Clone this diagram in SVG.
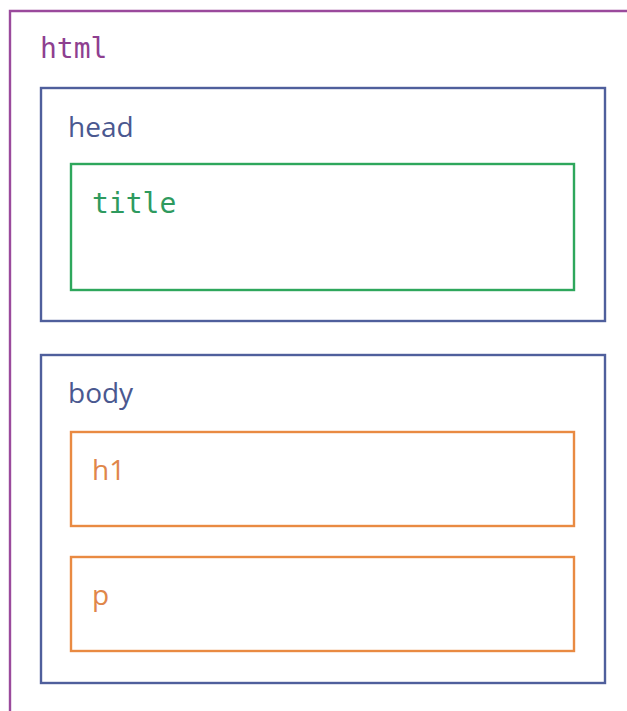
<svg xmlns="http://www.w3.org/2000/svg" width="627" height="711" viewBox="0 0 627 711">
<style>
.box{fill:none;stroke-width:2.4}
.mono{font-family:"DejaVu Sans Mono","Liberation Mono",monospace;font-size:28px}
.sans{font-family:"Open Sans","DejaVu Sans",sans-serif;font-size:28px}
.purple{stroke:#9a4a9c}
.blue{stroke:#4f5f9c}
.green{stroke:#2ea75c}
.orange{stroke:#e98a42}
</style>
<rect width="627" height="711" fill="#ffffff"/>
<g id="html">
<path class="box purple" d="M10 720 V11 H640" stroke-width="3"/>
<text class="mono" x="40" y="58" fill="#8e3f90">html</text>
</g>
<g id="head">
<rect class="box blue" x="41" y="88" width="564" height="233"/>
<text class="sans" x="68" y="137" fill="#4a5890">head</text>
</g>
<g id="title">
<rect class="box green" x="71" y="164" width="503" height="126"/>
<text class="mono" x="92" y="213" fill="#2e9a5e">title</text>
</g>
<g id="body">
<rect class="box blue" x="41" y="355" width="564" height="328"/>
<text class="sans" x="68" y="403" fill="#4a5890">body</text>
</g>
<g id="h1">
<rect class="box orange" x="71" y="432" width="503" height="94"/>
<text class="sans" x="92" y="480" fill="#e0864a">h1</text>
</g>
<g id="p">
<rect class="box orange" x="71" y="557" width="503" height="94"/>
<text class="sans" x="92" y="605" fill="#e0864a">p</text>
</g>
<g id="connectors"/>
</svg>
